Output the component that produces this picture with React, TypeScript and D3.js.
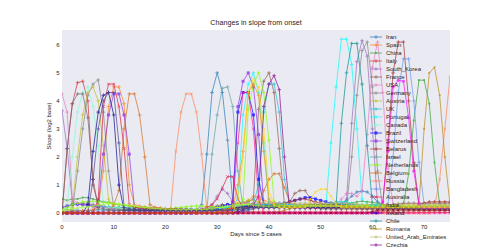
import React from 'react';
import * as d3 from 'd3';

// Legend order (entries beyond Czechia fall below the figure edge, as in the reference)
const countries = [
  'Iran', 'Spain', 'China', 'Italy', 'South_Korea', 'France', 'USA', 'Germany', 'Austria', 'UK',
  'Portugal', 'Canada', 'Brazil', 'Switzerland', 'Belarus', 'Israel', 'Netherlands', 'Belgium', 'Russia',
  'Bangladesh', 'Australia', 'India', 'Ireland', 'Chile', 'Romania', 'United_Arab_Emirates', 'Czechia',
  'Denmark', 'Poland', 'Norway', 'Sweden', 'Japan', 'Malaysia', 'Pakistan', 'Ecuador',
];

const iran = [
  .1, .12, .1, .1, .08, .08, .1, .12, .1, .1,
  .1, .1, .08, .08, .07, .07, .06, .06, .06, .05,
  .05, .05, .05, .05, .05, .05, .1, .3, 2.1, 4.3,
  5, 4.3, 2.6, .4, .3, .3, .28, .28, .26, .25,
  .25, .24, .24, .22, .22, .2, .2, .2, .2, .2,
  .2, .22, .25, .3, .35, .45, .6, .75, .78, .75,
  .6, .4, .3, .25, .22, .2, .2, .18, .18, .17,
  .17, .16, .16, .15, .15, .15,
];
const spain = [
  .05, .05, .06, .06, .08, .1, .12, .2, 1.5, 3.8,
  4.5, 4.5, 3.9, 1, .3, .25, .22, .2, .18, .17,
  .15, .15, .14, .13, .13, .12, .12, .12, .11, .1,
  .1, .1, .12, .15, .2, .3, .45, .6, .55, .45,
  .4, .35, .3, .28, .25, .22, .2, .2, .18, .18,
  .17, .17, .16, .16, .15, .15, .15, .15, .14, .14,
  .14, .14, .13, .13, .13, .12, .12, .12, .12, .11,
  .11, .11, .1, .1, .1, .1,
];
const china = [
  .5, .45, .5, .5, .55, .55, .5, .45, .4, .38,
  .35, .3, .28, .25, .22, .2, .2, .18, .16, .15,
  .15, .14, .13, .12, .12, .11, .1, .1, .1, .1,
  .1, .1, .1, .1, .12, .15, .2, .25, .3, .3,
  .28, .26, .25, .22, .2, .2, .2, .2, .2, .2,
  .22, .24, .26, .28, .3, .32, .35, .4, .42, .4,
  .38, .35, .3, .28, .25, .25, .3, 1.4, 3.3, 4.74,
  4.74, 3.9, 1.8, .3, .2, .15,
];
const italy = [
  0, 2.3, 3.9, 4.65, 4.7, 4, 1, .3, .25, .2,
  .2, .2, .18, .15, .15, .12, .12, .1, .1, .1,
  .1, .1, .08, .08, .08, .07, .07, .07, .06, .06,
  .06, .05, .05, .05, .05, .05, .05, .04, .04, .04,
  .04, .04, .04, .04, .03, .03, .03, .03, .03, .03,
  .03, .03, .03, .03, .03, .03, .03, .03, .03, .03,
  .03, .03, .03, .03, .03, .02, .02, .02, .02, .02,
  .02, .02, .02, .02, .02, .02,
];
const southKorea = [
  3.65, 2.3, .4, .3, .35, .35, .3, .25, .2, .18,
  .15, .14, .13, .12, .12, .1, .1, .1, .1, .1,
  .1, .1, .1, .1, .1, .1, .1, .1, .12, .3,
  .6, .85, .7, .4, .3, .25, .22, .2, .2, .2,
  .2, .2, .2, .2, .2, .18, .18, .18, .18, .17,
  .17, .17, .17, .16, .16, .5, 3.2, 5.4, 6.15, 5.6,
  3, .3, .2, .18, .16, .15, .14, .14, .13, .13,
  .12, .12, .12, .11, .11, .1,
];
const france = [
  0, 0, 0, 0, 0, 0, 0, 0, 0, 0,
  0, 0, 0, 0, 0, 0, 0, 0, 0, 0,
  0, 0, 0, 0, 0, 0, .05, .1, .15, .2,
  .25, .3, .3, .3, .3, .35, .4, .5, 3.7, 4.7,
  5, 4.3, 2.3, .3, .4, .7, .8, .8, .5, .3,
  .25, .22, .2, .2, .2, .2, .2, .2, .2, .2,
  .2, .22, .25, .3, .3, .32, .35, .35, .35, .35,
  .35, .35, .35, .35, .35, .35,
];
const usa = [
  4.25, 3.6, .5, .35, .3, .3, .28, .25, .25, .22,
  .2, .2, .18, .18, .16, .15, .15, .14, .13, .12,
  .12, .11, .1, .1, .1, .1, .1, .1, .1, .1,
  .12, .15, .2, .25, .3, .32, .35, .35, .35, .3,
  .3, .28, .26, .25, .24, .22, .22, .22, .22, .22,
  .22, .22, .22, .3, .5, .7, .7, .6, .8, 2.8,
  5.2, 6.1, 4.3, 1.6, .3, .2, .2, .2, .2, .2,
  .2, .2, .2, .2, .2, .2,
];
const germany = [
  0, 0, .1, 1.5, 3, 4.2, 4.6, 4.75, 3.6, 1.5,
  .2, .15, .12, .1, .1, .1, .1, .1, .1, .1,
  .1, .1, .1, .1, .1, .1, .1, .1, .1, .1,
  .1, .12, .14, .16, .18, .2, .22, .25, .28, .3,
  .3, .3, .28, .26, .25, .24, .22, .22, .2, .2,
  .2, .2, .2, .2, .2, .2, 2, 4.2, 5.8, 6.1,
  4.5, 1.5, .2, .15, .15, .15, .15, .15, .15, .15,
  .15, .15, .15, .15, .15, .15,
];
const austria = [
  .05, .05, .2, 2, 3.5, 4.3, 4.5, 4, 2.4, .5,
  .2, .18, .16, .15, .14, .13, .12, .12, .11, .1,
  .1, .1, .1, .1, .1, .1, .1, .12, .15, .18,
  .2, .22, .25, .3, .35, .4, .45, .45, .4, .35,
  .3, .28, .25, .22, .2, .2, .2, .2, .2, .2,
  .2, .2, .2, .2, .2, .2, .18, .18, .18, .18,
  .18, .18, .17, .17, .17, .17, .16, .16, .16, .16,
  .16, .16, .15, .15, .15, .15,
];
const uk = [
  .2, .25, .3, .3, .3, .28, .26, .25, .24, .22,
  .2, .2, .2, .18, .18, .18, .16, .16, .15, .15,
  .15, .15, .14, .14, .14, .14, .13, .13, .13, .13,
  .13, .14, .15, .2, .25, .3, .3, .35, 1, 3.6,
  4.6, 4.6, 3.6, 1.2, .3, .28, .28, .3, .3, .3,
  .3, .3, .32, .35, .35, .35, .3, .28, .26, .25,
  .24, .22, .22, .2, .2, .2, .2, .2, .2, .2,
  .2, .2, .2, .2, .2, .2,
];
const portugal = [
  0, 0, 0, 0, 0, 0, 0, 0, 0, 0,
  0, 0, 0, 0, 0, 0, 0, 0, 0, 0,
  0, 0, 0, 0, 0, 0, 0, 0, .05, .1,
  .15, .2, .25, .3, .5, 3.5, 4.6, 5, 4.3, 2.5,
  .3, .3, .28, .26, .25, .24, .22, .22, .2, .2,
  .2, .25, 2.5, 4.5, 6.2, 6.2, 5.3, 3, .5, .3,
  .3, .28, .26, .25, .24, .22, .22, .2, .2, .2,
  .2, .2, .18, .18, .18, .18,
];
const canada = [
  0, .3, 2, 3.6, 4.3, 4.5, 3.8, 2.4, .3, .2,
  .2, .18, .16, .15, .15, .14, .13, .12, .12, .11,
  .1, .1, .1, .1, .1, .1, .1, .1, .1, .1,
  .12, .15, .18, .2, .25, .3, .3, .3, .3, .28,
  .26, .25, .24, .22, .22, .2, .2, .2, .2, .2,
  .2, .2, .2, .2, .2, .2, .2, .2, .2, .2,
  .2, .2, .2, .2, .2, .2, .2, .2, .2, .2,
  .2, .2, .2, .2, .2, .2,
];
const brazil = [
  0, 0, 0, 0, 0, 0, 0, 0, 0, 0,
  0, 0, 0, 0, 0, 0, 0, 0, 0, 0,
  0, 0, 0, 0, 0, 0, 0, .05, .1, .15,
  .2, .25, .3, .3, 3.6, 4.3, 4.3, 3.5, 1.2, .3,
  .3, .3, .32, .35, .4, .45, .5, .55, .55, .5,
  .45, .4, .35, .3, .28, .26, .25, .24, .22, .2,
  .2, .2, .2, .2, .2, .2, .2, .2, .2, .2,
  .2, .2, .2, .2, .2, .2,
];
const switzerland = [
  .2, .25, .3, .32, .3, .28, .25, .22, 2.1, 3.5,
  4.25, 4.25, 3.5, 2.1, .2, .18, .16, .15, .14, .13,
  .12, .12, .12, .11, .11, .1, .1, .1, .1, .1,
  .1, .12, .15, .4, 3.8, 4.7, 5, 4.5, 2.8, .3,
  .3, .28, .26, .25, .24, .22, .2, .2, .2, .2,
  .2, .2, .2, .2, .2, .2, .2, .18, .18, .18,
  .18, .18, .17, .17, .17, .16, .16, .16, .15, .15,
  .15, .15, .15, .15, .15, .15,
];
const belarus = [
  0, 0, 0, 0, 0, 0, 0, 0, 0, 0,
  0, 0, 0, 0, 0, 0, 0, 0, 0, 0,
  0, 0, 0, 0, 0, 0, 0, 0, 0, 0,
  0, 0, 0, 0, 0, .05, .1, .15, .2, .25,
  .3, .3, .3, .35, .4, .45, .5, .5, .45, .4,
  .35, .3, .3, .28, .26, .25, .24, .22, .22, .2,
  .2, .22, .3, 2.5, 5, 6.1, 6.1, 4, 1.8, .3,
  .35, .4, .4, .4, .4, .4,
];
const israel = [
  0, 0, 0, 0, 0, 0, 0, 0, 0, 0,
  0, 0, 0, 0, 0, 0, 0, 0, 0, 0,
  0, 0, 0, 0, 0, 0, 0, .05, .1, 2.1,
  3.5, 4.45, 4.5, 3.8, 1.5, .2, .2, .2, .2, .2,
  .2, .2, .2, .2, .2, .2, .2, .2, .2, .2,
  .22, .24, .26, .28, .3, .3, .3, .28, .26, .25,
  .24, .22, .2, .2, .2, .2, .2, .2, .2, .2,
  .2, .2, .2, .2, .2, .2,
];
const netherlands = [
  .1, .2, .3, .35, .4, .4, .42, .4, .38, .35,
  .32, .3, .28, .25, .22, .2, .18, .16, .15, .15,
  .15, .16, .18, .2, .22, .24, .25, .25, .24, .22,
  .2, .2, .2, .2, .25, .5, 3.7, 4.6, 5, 4.3,
  2.6, .4, .3, .28, .26, .25, .24, .22, .2, .2,
  .2, .2, .2, .2, .2, .2, .22, .25, .28, .3,
  .3, .28, .26, .25, .24, .22, .2, .2, .2, .2,
  .2, .2, .2, .2, .2, .2,
];
const belgium = [
  0, 0, 0, 0, 0, 0, 0, 0, 0, 0,
  .3, .8, 3, 4.25, 4.25, 3.5, 2, .3, .2, .18,
  .16, .15, .14, .13, .12, .12, .11, .1, .1, .1,
  .1, .1, .12, .15, .2, .25, .3, .3, .3, .8,
  1.2, 1.4, 1.4, .9, .4, .3, .28, .26, .25, .24,
  .22, .2, .2, .2, .2, .2, .2, .2, .2, .2,
  .2, .2, .2, .2, .2, .2, .2, .2, .2, .2,
  .2, .2, .2, .2, .2, .2,
];
const russia = [
  0, 0, 0, 0, 0, 0, 0, 0, 0, 0,
  0, 0, 0, 0, 0, 0, 0, 0, 0, 0,
  0, .1, 2.2, 3.6, 4.25, 4.25, 3.6, 2.1, .1, 0,
  0, 0, 0, 0, 0, 0, 0, 0, 0, 0,
  0, 0, 0, 0, 0, 0, 0, 0, 0, 0,
  0, 0, 0, 0, 0, 0, 0, 0, 0, 0,
  0, 0, 0, 0, 0, 0, 0, 0, 0, 0,
  0, 0, .2, 1.2, 3, 4.85,
];
const bangladesh = [
  0, 0, 0, 0, 0, 0, 0, 0, 0, 0,
  0, 0, 0, 0, 0, 0, 0, 0, 0, 0,
  0, 0, 0, 0, 0, 0, 0, 0, 0, 0,
  0, 0, 0, 0, 0, .05, .1, .15, .2, .25,
  .3, .35, .35, .35, .3, .28, .26, .25, .24, .22,
  .2, .2, .2, .2, .2, .2, .2, .2, .2, .2,
  .2, .2, .22, .3, 2, 4.3, 5.5, 5.5, 4, 1.8,
  .3, .25, .25, .25, .25, .25,
];
const australia = [
  0, 0, 0, 0, 0, 0, 0, .5, 3.8, 4.6,
  4.6, 3.8, 2.3, .3, .2, .18, .16, .15, .14, .13,
  .12, .12, .11, .11, .1, .1, .1, .15, .2, .3,
  .5, .9, 1.3, 1.3, .5, .2, .2, .2, .2, .2,
  .2, .2, .2, .2, .2, .2, .2, .2, .2, .2,
  .2, .2, .2, .2, .2, .2, .2, .2, .2, .2,
  .2, .2, .2, .2, .2, .2, .2, .2, .2, .2,
  .2, .2, .2, .2, .2, .2,
];
const india = [
  0, 0, 0, 0, 0, 0, 0, 0, 0, 0,
  0, 0, 0, 0, 0, 0, 0, 0, 0, 0,
  0, 0, 0, 0, 0, 0, 0, 0, 0, .05,
  .1, .15, .2, .22, .25, .25, .28, .3, .3, .3,
  .3, .3, .3, .3, .28, .28, .26, .25, .25, .25,
  .25, .3, .35, .4, .4, .4, .35, .3, .28, .26,
  .25, .24, .22, .2, .2, .2, .2, .2, .2, .2,
  .2, .2, .2, .2, .2, .2,
];
const ireland = [
  0, 0, 0, 0, 0, .3, 2.2, 3.6, 4.2, 4.3,
  3.5, 1, .1, .1, .1, .1, .1, .1, .1, .1,
  .1, .1, .1, .1, .1, .1, .1, .1, .1, .1,
  .1, .12, .15, .18, .2, .22, .25, .25, .25, .25,
  .25, .25, .24, .24, .23, .22, .22, .2, .2, .2,
  .2, .2, .2, .2, .2, .2, .2, .2, .2, .2,
  .2, .2, .2, .2, .2, .2, .2, .2, .2, .2,
  .2, .2, .2, .2, .2, .2,
];
const chile = [
  0, 0, 0, 0, 0, 0, 0, 0, 0, 0,
  0, 0, 0, 0, 0, 0, 0, 0, 0, 0,
  0, 0, 0, 0, 0, 0, 0, 0, 0, 0,
  0, 0, 0, 0, .05, .1, .15, .2, .2, .2,
  .2, .2, .2, .2, .2, .2, .2, .2, .2, .2,
  .2, .2, .2, .3, 3.2, 5, 6.05, 6.05, 4.6, 2.4,
  .3, .25, .25, .24, .24, .22, .22, .2, .2, .2,
  .2, .2, .2, .2, .2, .2,
];
const romania = [
  0, 0, 0, 0, 0, 0, 0, 0, 0, 0,
  0, 0, 0, 0, 0, 0, 0, 0, 0, 0,
  0, 0, 0, 0, 0, 0, 0, 0, 0, 0,
  0, 0, 0, 0, 0, 0, 0, 0, 0, 0,
  0, 0, .05, .1, .15, .2, .25, .3, .3, .3,
  .3, .3, .3, .28, .26, .25, .24, .22, .2, .2,
  .2, .2, .2, .2, .2, .2, .2, .2, .2, .3,
  3, 5, 5.2, 4.2, 2, .3,
];
const uae = [
  0, 0, 0, 0, 0, 0, 0, 0, 0, 0,
  0, 0, 0, 0, 0, 0, 0, 0, 0, 0,
  0, 0, 0, 0, 0, 0, 0, 0, 0, 0,
  .05, .1, .15, .2, .25, .3, .32, .35, .35, .35,
  .35, .35, .35, .35, .35, .35, .35, .35, .35, .35,
  .35, .35, .35, .35, .35, .35, .33, .32, .3, .3,
  .3, .3, .3, .3, .3, .3, .3, .3, .3, .3,
  .3, .3, .3, .3, .3, .3,
];
const czechia = [
  0, 0, 0, 0, 0, 0, 0, 0, 0, 0,
  0, 0, 0, 0, 0, 0, 0, 0, 0, 0,
  0, 0, 0, 0, 0, 0, 0, 0, 0, 0,
  0, 0, 0, 0, .05, .1, .2, .3, .6, 3.8,
  4.6, 4.9, 4.4, 2, .2, .2, .2, .2, .2, .2,
  .2, .2, .2, .2, .2, .2, .2, .2, .2, .2,
  .2, .2, .2, .2, .2, .2, .2, .2, .2, .2,
  .2, .2, .2, .2, .2, .2,
];
const denmark = [
  0, 2.3, 3.9, 4.25, 4.25, 3.4, 1.2, .2, .15, .12,
  .1, .1, .1, .1, .1, .1, .1, .1, .1, .1,
  .1, .1, .1, .1, .1, .1, .1, .1, .1, .1,
  .1, .1, .12, .14, .16, .18, .2, .2, .2, .2,
  .2, .2, .2, .2, .2, .2, .2, .2, .2, .2,
  .15, .15, .15, .15, .15, .15, .15, .15, .15, .15,
  .15, .15, .15, .15, .15, .15, .15, .15, .15, .15,
  .15, .15, .15, .15, .15, .15,
];
const poland = [
  0, 0, 0, 0, 0, 0, 0, 0, 0, 0,
  0, 0, 0, 0, 0, 0, 0, 0, 0, 0,
  0, 0, 0, 0, 0, 0, 0, 0, 0, 0,
  .05, .1, .15, .2, 1, 2.2, 4.3, 4.6, 4.2, 2.2,
  .5, .3, .28, .26, .25, .25, .25, .25, .25, .25,
  .25, .25, .25, .25, .25, .25, .25, .25, .25, .25,
  .25, .25, .25, .25, .25, .25, .25, .25, .25, .25,
  .25, .25, .25, .25, .25, .25,
];
const norway = [
  0, 0, 0, 0, 0, 0, 1.2, 3, 4, 4.3,
  4.3, 2.5, .2, .15, .12, .1, .1, .1, .1, .1,
  .1, .1, .1, .1, .1, .1, .1, .1, .1, .1,
  .1, .1, .1, .1, .12, .15, .18, .2, .2, .2,
  .2, .2, .2, .2, .2, .2, .2, .2, .2, .2,
  .2, .2, .2, .2, .2, .2, .2, .2, .2, .2,
  .2, .2, .2, .2, .2, .2, .2, .2, .2, .2,
  .2, .2, .2, .2, .2, .2,
];
const sweden = [
  0, 0, 0, 0, 0, 0, 0, 0, 0, 0,
  0, 0, 0, 0, 0, 0, 0, 0, 0, 0,
  0, 0, 0, 0, 0, 0, 0, 0, 0, 0,
  0, 0, 0, .3, 2.5, 4.3, 4.3, 3, .5, 0,
  0, 0, 0, 0, 0, 0, 0, 0, 0, 0,
  0, 0, 0, 0, 0, 0, 0, 0, 0, 0,
  0, 0, 0, 0, 0, 0, 0, 0, 0, 0,
  0, 0, 0, 0, 0, 0,
];
const japan = [
  0, 0, 0, 0, 0, 0, 0, 0, 0, 0,
  0, 0, 0, 0, 0, 0, 0, 0, 0, 0,
  0, 0, 0, 0, 0, 0, 0, 0, 0, 0,
  0, 0, 0, 0, 0, 0, 0, 0, 0, 0,
  0, 0, 0, 0, 0, 0, 0, 0, 0, 0,
  0, 0, 0, 0, 0, 0, 0, 0, 0, 0,
  0, 0, .4, 2.2, 4.5, 4.74, 4.7, 3.4, 1.5, .3,
  .2, .2, .2, .2, .2, .2,
];
const malaysia = [
  0, 0, 0, 0, 0, 0, 0, 0, 0, 0,
  0, 0, 0, 0, 0, 0, 0, 0, 0, 0,
  0, 0, 0, 0, 0, 0, 0, 0, 0, 0,
  0, 0, 0, 0, .5, 2, 4.3, 4.8, 4.5, 3,
  .8, .3, .2, .2, .2, .2, .2, .2, .5, .75,
  .85, .85, .6, .3, .2, .2, .2, .2, .2, .2,
  .2, .2, .2, .2, .2, .2, .2, .2, .2, .2,
  .2, .2, .2, .2, .2, .2,
];
const pakistan = [
  .1, .12, .15, .18, .2, .22, .25, .28, .3, .35,
  .35, .32, .3, .28, .25, .22, .2, .18, .16, .15,
  .14, .13, .12, .12, .12, .12, .12, .13, .14, .15,
  .2, .22, .25, .28, .3, .3, .3, .28, .26, .25,
  .25, .25, .25, .25, .25, .25, .25, .25, .25, .25,
  .25, .25, .25, .25, .25, .25, .25, .25, .25, .25,
  .25, .25, .25, .25, .25, .25, .25, .25, .25, .25,
  .25, .25, .25, .25, .25, .25,
];
const ecuador = [
  0, 0, 0, 0, 0, 0, 0, 0, 0, 0,
  0, 0, 0, 0, 0, 0, 0, 0, 0, 0,
  0, 0, 0, 0, 0, 0, 0, 0, 0, 0,
  0, 0, 0, 0, 0, 0, 0, 0, 0, 0,
  0, 0, 0, 0, 0, 0, 0, 0, 0, 0,
  0, 0, 0, 0, 0, 0, 0, 0, 0, 0,
  .05, .1, .1, .1, .1, .1, .1, .1, .1, .1,
  .1, .1, .1, .1, .1, .1,
];

const seriesValues = [
  iran, spain, china, italy, southKorea, france, usa, germany, austria, uk,
  portugal, canada, brazil, switzerland, belarus, israel, netherlands, belgium, russia,
  bangladesh, australia, india, ireland, chile, romania, uae, czechia,
  denmark, poland, norway, sweden, japan, malaysia, pakistan, ecuador,
];

const colors = [
  '#1f77b4', '#ff7f0e', '#2ca02c', '#d62728', '#9467bd', '#8c564b', '#e377c2', '#7f7f7f', '#bcbd22', '#17becf',
  '#00ffff', '#7fffd4', '#0000ff', '#8a2be2', '#a52a2a', '#5f9ea0', '#7fff00', '#d2691e', '#ff7f50',
  '#6495ed', '#dc143c', '#00e0e0', '#00008b', '#008b8b', '#b8860b', '#bdb76b', '#8b008b',
  '#696969', '#ff8c00', '#483d8b', '#ff1493', '#ff00ff', '#ffd700', '#adff2f', '#8b0000',
];

const markers = [
  '+', '+', '.', '+', '+', '+', '+', '+', '+', '+',
  '+', '+', 's', 's', '+', '+', '+', '+', 'x',
  '+', 'x', '+', '+', '+', '.', '+', '+',
  '+', '+', '+', 'x', 'o', '.', '+', 'x',
];

const xTicks = [0, 10, 20, 30, 40, 50, 60, 70];
const yTicks = [0, 1, 2, 3, 4, 5, 6];

function Marker({ type, cx, cy, color }: { type: string; cx: number; cy: number; color: string }) {
  if (type === '+') {
    return <path d={`M${cx - 1.8},${cy}h3.6M${cx},${cy - 1.8}v3.6`} stroke={color} strokeWidth={0.9} fill="none" />;
  }
  if (type === 'x') {
    return <path d={`M${cx - 1.3},${cy - 1.3}l2.6,2.6M${cx - 1.3},${cy + 1.3}l2.6,-2.6`} stroke={color} strokeWidth={0.9} fill="none" />;
  }
  if (type === 's') {
    return <rect x={cx - 1.5} y={cy - 1.5} width={3} height={3} fill={color} />;
  }
  if (type === 'o') {
    return <circle cx={cx} cy={cy} r={1.5} fill={color} />;
  }
  return <circle cx={cx} cy={cy} r={1.1} fill={color} />;
}

export default function App() {
  const left = 62, right = 450, top = 30, bottom = 222;
  const x = d3.scaleLinear().domain([0, 75]).range([left, right]);
  const y = d3.scaleLinear().domain([-0.32, 6.53]).range([bottom, top]);
  const line = d3.line<number>().x((_, i) => x(i)).y((d) => y(d));
  const textColor = '#262626';
  const font = '"Liberation Sans", Arial, sans-serif';
  const alpha = 0.75;
  const legendTop = 37;
  const legendStep = 8;
  // only entries that fall inside the 250px-high figure are visible (the rest are cut off, as in the reference)
  const legendCount = countries.filter((_, i) => legendTop + i * legendStep <= 246).length;

  return (
    <svg width={500} height={250} style={{ position: 'absolute', left: 0, top: 0 }} fontFamily={font}>
      <rect x={0} y={0} width={500} height={250} fill="#ffffff" />
      <defs>
        <clipPath id="plotclip">
          <rect x={left} y={top} width={right - left} height={bottom - top} />
        </clipPath>
      </defs>
      <rect x={left} y={top} width={right - left} height={bottom - top} fill="#eaeaf2" />
      <g clipPath="url(#plotclip)">
        {seriesValues.map((vals, si) => (
          <g key={countries[si]} opacity={alpha}>
            <path d={line(vals) || ''} fill="none" stroke={colors[si]} strokeWidth={0.9} strokeLinejoin="round" />
            {vals.map((v, i) => (
              <Marker key={i} type={markers[si]} cx={x(i)} cy={y(v)} color={colors[si]} />
            ))}
          </g>
        ))}
      </g>
      {xTicks.map((t) => (
        <text key={t} x={x(t)} y={228.5} fontSize={6} fill={textColor} textAnchor="middle">{t}</text>
      ))}
      {yTicks.map((t) => (
        <text key={t} x={59.5} y={y(t)} fontSize={6} fill={textColor} textAnchor="end" dominantBaseline="central">{t}</text>
      ))}
      <text x={(left + right) / 2} y={25} fontSize={7.2} fill={textColor} textAnchor="middle">Changes in slope from onset</text>
      <text x={(left + right) / 2} y={236} fontSize={6} fill={textColor} textAnchor="middle">Days since 5 cases</text>
      <text transform={`translate(51,${(top + bottom) / 2}) rotate(-90)`} fontSize={6} fill={textColor} textAnchor="middle">Slope (log2 base)</text>
      <g>
        {countries.slice(0, legendCount).map((c, i) => {
          const ly = legendTop + i * legendStep;
          return (
            <g key={c}>
              <g opacity={alpha}>
                <line x1={370} x2={382} y1={ly} y2={ly} stroke={colors[i]} strokeWidth={0.9} />
                <Marker type={markers[i]} cx={376} cy={ly} color={colors[i]} />
              </g>
              <text x={386} y={ly} fontSize={6} fill={textColor} dominantBaseline="central">{c}</text>
            </g>
          );
        })}
      </g>
    </svg>
  );
}
